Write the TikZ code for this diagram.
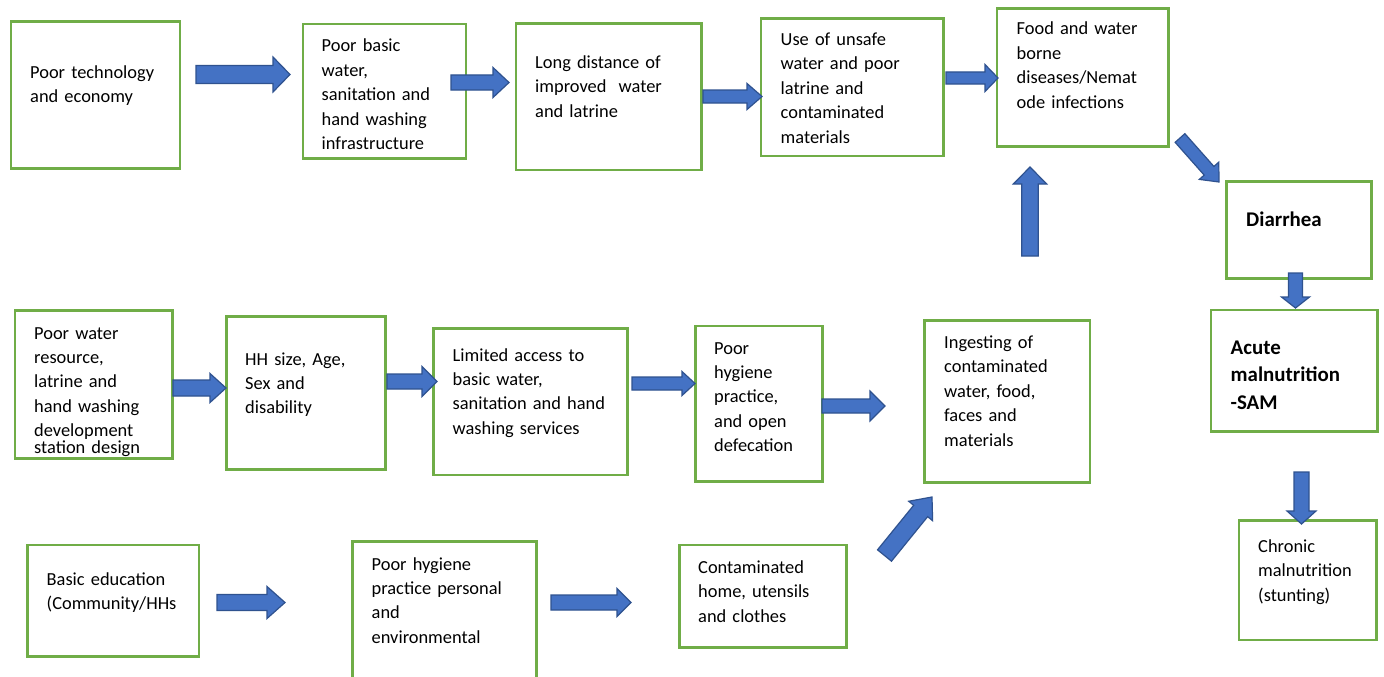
\documentclass[tikz,border=0pt]{standalone}
\usepackage{fontspec}
\setmainfont{Carlito}
\usetikzlibrary{calc}
\definecolor{boxgreen}{HTML}{70AD47}
\definecolor{arrowblue}{HTML}{4472C4}
\definecolor{arrowedge}{HTML}{2F528F}
\tikzset{
  gbox/.style={draw=boxgreen, line width=2.5pt, rectangle, inner sep=0pt, outer sep=0pt, anchor=north west},
  txt/.style={anchor=base west, inner sep=0pt, text width=300pt, align=left, font=\fontsize{18.4}{24.4}\selectfont},
  btxt/.style={txt, font=\fontsize{20.9}{27.5}\selectfont\bfseries},
  barrowstyle/.style={fill=arrowblue, draw=arrowedge, line width=1.2pt, line join=miter},
}
\newcommand{\blockarrow}[5]{%
  \coordinate (tmpb) at ($(#2)!#5!(#1)$);
  \draw[barrowstyle] ($(#1)!#3!90:(#2)$) -- ($(tmpb)!#3!-90:(#1)$) -- ($(tmpb)!#4!-90:(#1)$) -- (#2)
    -- ($(tmpb)!#4!90:(#1)$) -- ($(tmpb)!#3!90:(#1)$) -- ($(#1)!#3!-90:(#2)$) -- cycle;}
\begin{document}
\begin{tikzpicture}[x=1pt,y=-1pt]
\useasboundingbox (0,0) rectangle (1384,677);
\clip (0,0) rectangle (1384,677);
\fill[white] (0,0) rectangle (1384,677);

% boxes
\node[gbox, minimum width=169pt, minimum height=147pt] (b1) at (11,21.5) {};
\node[gbox, minimum width=163pt, minimum height=134.5pt] (b2) at (303,24) {};
\node[gbox, minimum width=185.5pt, minimum height=146.5pt] (b3) at (516,23.5) {};
\node[gbox, minimum width=182.5pt, minimum height=137.5pt] (b4) at (761,18.5) {};
\node[gbox, minimum width=171.5pt, minimum height=138pt] (b5) at (997,8.5) {};
\node[gbox, minimum width=145pt, minimum height=97pt] (b6) at (1226.5,181.5) {};
\node[gbox, minimum width=166.5pt, minimum height=121.5pt] (b7) at (1211,310) {};
\node[gbox, minimum width=137.5pt, minimum height=119.5pt] (b8) at (1239,520.5) {};
\node[gbox, minimum width=157.5pt, minimum height=148pt] (b9) at (15,310.5) {};
\node[gbox, minimum width=159pt, minimum height=153pt] (b10) at (226.5,316.5) {};
\node[gbox, minimum width=194pt, minimum height=146.5pt] (b11) at (433.5,328.5) {};
\node[gbox, minimum width=127pt, minimum height=155.5pt] (b12) at (695.5,326) {};
\node[gbox, minimum width=165.5pt, minimum height=162pt] (b13) at (924.5,320.5) {};
\node[gbox, minimum width=171.5pt, minimum height=111.5pt] (b14) at (27.5,545) {};
\node[gbox, minimum width=184pt, minimum height=158.5pt] (b15) at (352.5,541.5) {};
\node[gbox, minimum width=167pt, minimum height=102.5pt] (b16) at (679.5,545) {};

% texts
\node[txt] (t1) at (30,78.5) {Poor technology\\and economy};
\node[txt] (t2) at (321.5,52) {Poor basic\\water,\\sanitation and\\hand washing\\infrastructure};
\node[txt] (t3) at (535,68.5) {Long distance of\\improved~ water\\and latrine};
\node[txt] (t4) at (780.5,45.5) {Use of unsafe\\water and poor\\latrine and\\contaminated\\materials};
\node[txt] (t5) at (1016.5,35) {Food and water\\borne\\diseases/Nemat\\ode infections};
\node[btxt] (t6) at (1246,226.5) {Diarrhea};
\node[btxt] (t7) at (1230.5,354) {Acute\\malnutrition\\-SAM};
\node[txt] (t8) at (1258,552.5) {Chronic\\malnutrition\\(stunting)};
\node[txt] (t9) at (34,339) {Poor water\\resource,\\latrine and\\hand washing\\development\\[-7.7pt]station design};
\node[txt] (t10) at (245,365) {HH size, Age,\\Sex and\\disability};
\node[txt] (t11) at (452.5,361) {Limited access to\\basic water,\\sanitation and hand\\washing services};
\node[txt] (t12) at (714,354) {Poor\\hygiene\\practice,\\and open\\defecation};
\node[txt] (t13) at (944,348.5) {Ingesting of\\contaminated\\water, food,\\faces and\\materials};
\node[txt] (t14) at (46.5,585.5) {Basic education\\(Community/HHs};
\node[txt] (t15) at (371.5,570) {Poor hygiene\\practice personal\\and\\environmental};
\node[txt] (t16) at (698,573.5) {Contaminated\\home, utensils\\and clothes};

% arrow end points
\coordinate (a1s) at (196,74.5);   \coordinate (a1e) at (290,74.5);
\coordinate (a2s) at (451,82.5);   \coordinate (a2e) at (509,82.5);
\coordinate (a3s) at (703,96.5);   \coordinate (a3e) at (762,96.5);
\coordinate (a4s) at (946,78);     \coordinate (a4e) at (998,78);
\coordinate (a5s) at (1180,138);   \coordinate (a5e) at (1219,182);
\coordinate (a6s) at (1030,256);   \coordinate (a6e) at (1030,167);
\coordinate (a7s) at (1295.5,273); \coordinate (a7e) at (1295.5,308);
\coordinate (a8s) at (1301.5,472); \coordinate (a8e) at (1301.5,524);
\coordinate (a9s) at (173,388);    \coordinate (a9e) at (226,388);
\coordinate (a10s) at (387,381.5); \coordinate (a10e) at (437,381.5);
\coordinate (a11s) at (632,383.5); \coordinate (a11e) at (695,383.5);
\coordinate (a12s) at (822,406);   \coordinate (a12e) at (885,406);
\coordinate (a13s) at (217,602.5); \coordinate (a13e) at (285,602.5);
\coordinate (a14s) at (551,602.5); \coordinate (a14e) at (631,602.5);
\coordinate (a15s) at (884.5,555.5); \coordinate (a15e) at (932,497);

% block arrows
\blockarrow{a1s}{a1e}{9pt}{17.5pt}{17pt}
\blockarrow{a2s}{a2e}{7.5pt}{15pt}{16pt}
\blockarrow{a3s}{a3e}{6.5pt}{13pt}{15pt}
\blockarrow{a4s}{a4e}{6pt}{13.5pt}{13pt}
\blockarrow{a5s}{a5e}{6.5pt}{13pt}{15pt}
\blockarrow{a6s}{a6e}{8.3pt}{16.7pt}{17pt}
\blockarrow{a7s}{a7e}{7pt}{14pt}{11pt}
\blockarrow{a8s}{a8e}{7.5pt}{14.5pt}{13pt}
\blockarrow{a9s}{a9e}{8pt}{14.5pt}{16pt}
\blockarrow{a10s}{a10e}{7.5pt}{15pt}{15pt}
\blockarrow{a11s}{a11e}{6.5pt}{12pt}{13pt}
\blockarrow{a12s}{a12e}{7pt}{15pt}{15pt}
\blockarrow{a13s}{a13e}{8pt}{16pt}{18pt}
\blockarrow{a14s}{a14e}{7.5pt}{14pt}{14pt}
\blockarrow{a15s}{a15e}{9pt}{15.4pt}{18pt}
\end{tikzpicture}
\end{document}
